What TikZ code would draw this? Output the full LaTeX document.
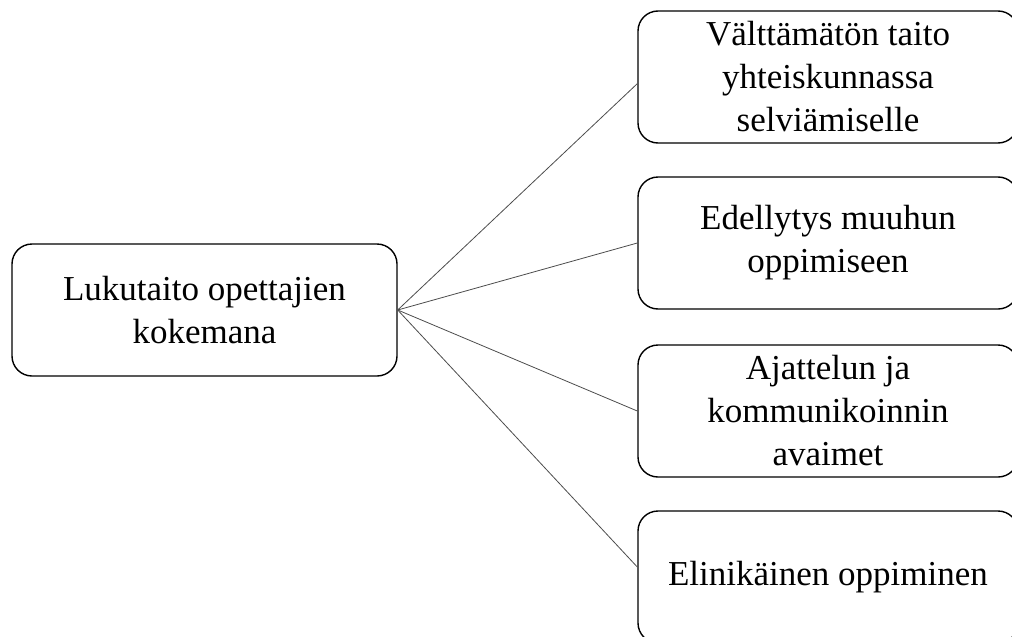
\documentclass[tikz,border=0pt]{standalone}
\usepackage{fontspec}
\setmainfont{Liberation Serif}
\usetikzlibrary{positioning}
\begin{document}
\begin{tikzpicture}[x=1pt,y=-1pt,
  theme/.style={rectangle,draw,line width=1.4pt,rounded corners=20pt,align=center,inner sep=0pt,minimum height=132pt,font=\fontsize{35}{43}\selectfont},
  link/.style={draw=black!70,line width=0.8pt}]
  \useasboundingbox (0,0) rectangle (1012,637);
  \clip (0,0) rectangle (1012,637);
  % centre and branches
  \node[theme,minimum width=385pt] (lukutaito) at (204.5,310) {Lukutaito opettajien\\kokemana};
  \node[theme,minimum width=380pt] (valttamaton) at (828,77) {Välttämätön taito\\yhteiskunnassa\\selviämiselle};
  \node[theme,minimum width=380pt] (edellytys) at (828,243) {Edellytys muuhun\\oppimiseen};
  \node[theme,minimum width=380pt] (ajattelun) at (828,411) {Ajattelun ja\\kommunikoinnin\\avaimet};
  \node[theme,minimum width=380pt] (elinikainen) at (828,577) {Elinikäinen oppiminen};
  \draw[link] (lukutaito.east) -- (valttamaton.182.4);
  \draw[link] (lukutaito.east) -- (edellytys.west);
  \draw[link] (lukutaito.east) -- (ajattelun.west);
  \draw[link] (lukutaito.east) -- (elinikainen.177.9);
\end{tikzpicture}
\end{document}
